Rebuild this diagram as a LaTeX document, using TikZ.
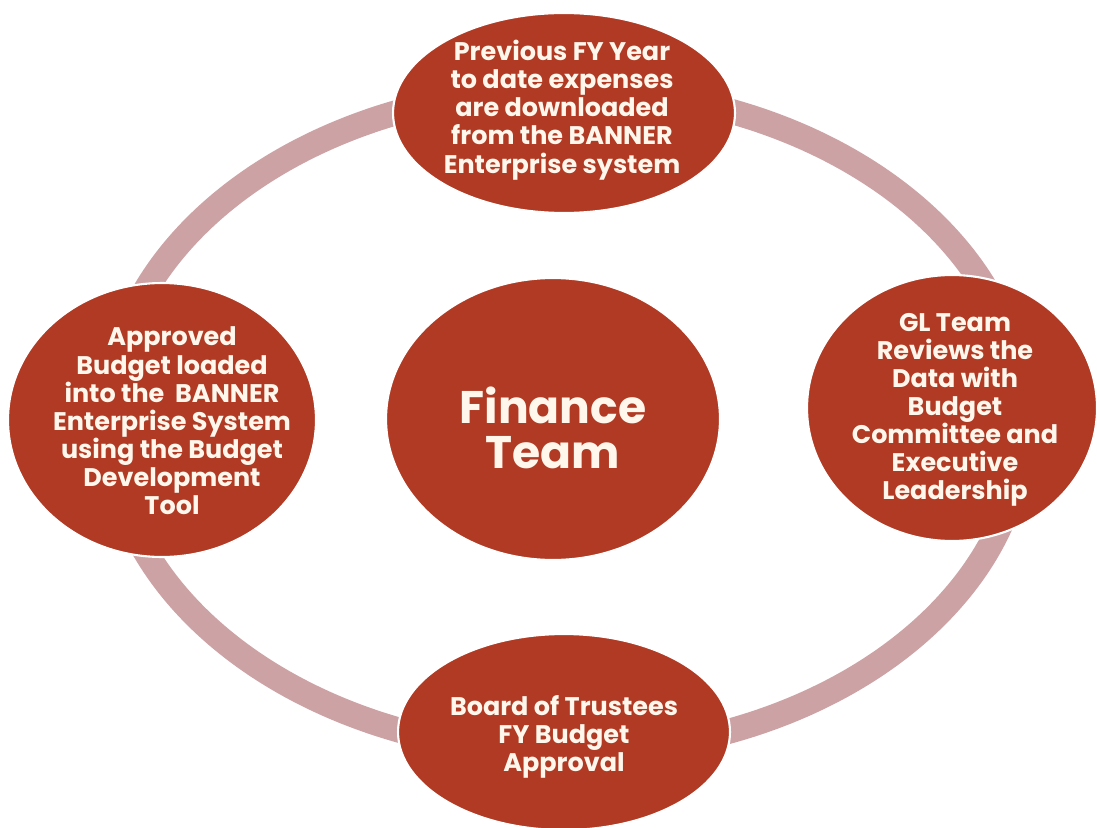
\documentclass[tikz,border=0pt]{standalone}
\usepackage{fontspec}
\setmainfont{Poppins}
\usetikzlibrary{shapes.geometric}
\definecolor{fillred}{RGB}{176,58,36}
\definecolor{ringc}{RGB}{205,162,165}
\definecolor{txtc}{RGB}{255,247,236}
\begin{document}
\begin{tikzpicture}[x=0.02cm,y=-0.02cm,
  bubble/.style={ellipse, fill=fillred, draw=white, line width=1.2pt, inner sep=0pt},
  label/.style={text=txtc, font=\bfseries\fontsize{14.5}{16}\selectfont, align=center, inner sep=0pt},
  biglabel/.style={text=txtc, font=\bfseries\fontsize{26}{26}\selectfont, align=center, inner sep=0pt}]
\useasboundingbox[fill=white] (0,0) rectangle (1097,827);
\draw[ringc, line width=0.5cm] (566,421) ellipse [x radius=9.15cm, y radius=6.64cm];
\node[bubble, minimum width=6.84cm, minimum height=4.0cm] (top) at (564,113) {};
\node[bubble, minimum width=6.16cm, minimum height=5.48cm] (left) at (162,420) {};
\node[bubble, minimum width=5.8cm, minimum height=5.32cm] (right) at (952,408) {};
\node[bubble, minimum width=6.64cm, minimum height=3.92cm] (bottom) at (564,732) {};
\node[bubble, minimum width=6.68cm, minimum height=5.64cm] (center) at (553,419) {};
\node[label] (toptxt) at (562,110) {Previous FY Year\\to date expenses\\are downloaded\\from the BANNER\\Enterprise system};
\node[label] (lefttxt) at (172,421) {Approved\\Budget loaded\\into the \ BANNER\\Enterprise System\\using the Budget\\Development\\Tool};
\node[label] (righttxt) at (955,410) {GL Team\\Reviews the\\Data with\\Budget\\Committee and\\Executive\\Leadership};
\node[label] (bottomtxt) at (564,737) {Board of Trustees\\FY Budget\\Approval};
\node[biglabel] (centertxt) at (553,428) {Finance\\Team};
\end{tikzpicture}
\end{document}
